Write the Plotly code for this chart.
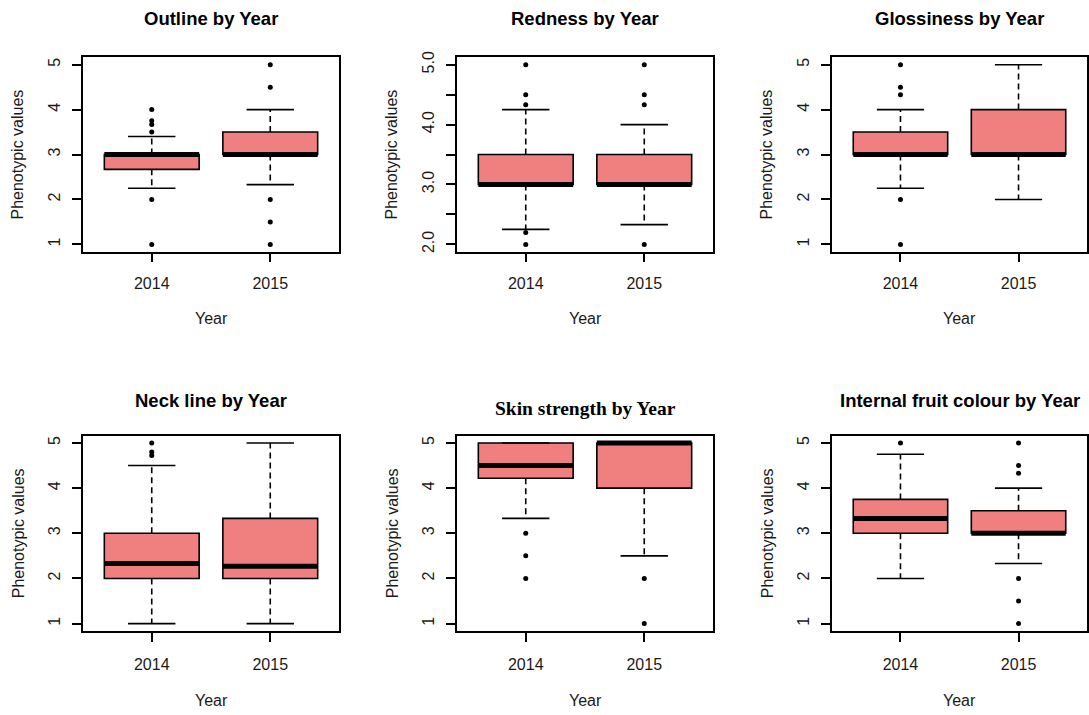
import plotly.graph_objects as go

# Phenotypic trait scores by harvest year (box statistics + outlying observations)
years = ["2014", "2015"]
positions = [1, 2]
traits = ["Outline", "Redness", "Glossiness", "Neck line", "Skin strength", "Internal fruit colour"]

q1 = [[2.67, 3.0], [3.0, 3.0], [3.0, 3.0], [2.0, 2.0], [4.22, 4.0], [3.0, 3.0]]
median = [[3.0, 3.0], [3.0, 3.0], [3.0, 3.0], [2.33, 2.27], [4.5, 5.0], [3.33, 3.0]]
q3 = [[3.0, 3.5], [3.5, 3.5], [3.5, 4.0], [3.0, 3.33], [5.0, 5.0], [3.75, 3.5]]
whisker_low = [[2.25, 2.33], [2.25, 2.33], [2.25, 2.0], [1.0, 1.0], [3.33, 2.5], [2.0, 2.33]]
whisker_high = [[3.4, 4.0], [4.25, 4.0], [4.0, 5.0], [4.5, 5.0], [5.0, 5.0], [4.75, 4.0]]
outliers_2014 = [[4.0, 3.75, 3.67, 3.5, 2.0, 1.0], [5.0, 4.5, 4.33, 2.2, 2.0],
                 [5.0, 4.5, 4.33, 2.0, 1.0], [5.0, 4.8, 4.72], [3.0, 2.5, 2.0], [5.0]]
outliers_2015 = [[5.0, 4.5, 2.0, 1.5, 1.0], [5.0, 4.5, 4.33, 2.0],
                 [], [], [2.0, 1.0], [5.0, 4.5, 4.33, 2.0, 1.5, 1.0]]

# y-axis ticks: Redness uses a half-step scale with every other label
ticks_1to5 = [1, 2, 3, 4, 5]
labels_1to5 = ["1", "2", "3", "4", "5"]
ticks_redness = [2.0, 2.5, 3.0, 3.5, 4.0, 4.5, 5.0]
labels_redness = ["2.0", "", "3.0", "", "4.0", "", "5.0"]

W, H = 1089, 715
FILL = "#F08080"
INK = "#1a1a1a"
SANS = "Liberation Sans, Arial, sans-serif"
SERIF = "Liberation Serif, Times New Roman, serif"
BOX_W = 0.8
CAP_W = 0.4

col_px = [(83, 339), (457, 713), (832, 1087)]
row_px = [(52, 248), (434, 631)]
title_px = [13, 398]
xlabel_gap = [68, 70]
xtick_standoff = [7, 9]

fig = go.Figure()
annotations = []

for i, trait in enumerate(traits):
    r, c = divmod(i, 3)
    n = i + 1
    xa = "x" if n == 1 else f"x{n}"
    ya = "y" if n == 1 else f"y{n}"

    fig.add_trace(go.Box(
        x=positions, q1=q1[i], median=median[i], q3=q3[i],
        lowerfence=q1[i], upperfence=q3[i], orientation="v",
        width=BOX_W, whiskerwidth=0, fillcolor=FILL, boxpoints=False,
        line=dict(color="black", width=1.6),
        xaxis=xa, yaxis=ya, showlegend=False, hoverinfo="skip"))

    # dashed whiskers from the box edges to the extremes, solid staples, heavy medians
    wx, wy, cx, cy, mx, my = [], [], [], [], [], []
    for j, p in enumerate(positions):
        wx += [p, p, None, p, p, None]
        wy += [q3[i][j], whisker_high[i][j], None, q1[i][j], whisker_low[i][j], None]
        cx += [p - CAP_W / 2, p + CAP_W / 2, None, p - CAP_W / 2, p + CAP_W / 2, None]
        cy += [whisker_high[i][j]] * 2 + [None] + [whisker_low[i][j]] * 2 + [None]
        mx += [p - BOX_W / 2, p + BOX_W / 2, None]
        my += [median[i][j]] * 2 + [None]

    fig.add_trace(go.Scatter(x=wx, y=wy, mode="lines", xaxis=xa, yaxis=ya,
                             line=dict(color="black", width=1.6, dash="6px,4px"),
                             showlegend=False, hoverinfo="skip"))
    fig.add_trace(go.Scatter(x=cx, y=cy, mode="lines", xaxis=xa, yaxis=ya,
                             line=dict(color="black", width=1.6),
                             showlegend=False, hoverinfo="skip"))
    fig.add_trace(go.Scatter(x=mx, y=my, mode="lines", xaxis=xa, yaxis=ya,
                             line=dict(color="black", width=5),
                             showlegend=False, hoverinfo="skip"))
    ox = [positions[0]] * len(outliers_2014[i]) + [positions[1]] * len(outliers_2015[i])
    oy = outliers_2014[i] + outliers_2015[i]
    fig.add_trace(go.Scatter(x=ox, y=oy, mode="markers", xaxis=xa, yaxis=ya,
                             marker=dict(color="black", size=5),
                             showlegend=False, hoverinfo="skip"))

    x0, x1 = col_px[c]
    y0, y1 = row_px[r]
    if trait == "Redness":
        yticks, ylabels, yrange = ticks_redness, labels_redness, [1.88, 5.12]
    else:
        yticks, ylabels, yrange = ticks_1to5, labels_1to5, [0.84, 5.16]

    axis_common = dict(showline=True, linecolor="black", linewidth=1.5, mirror=True,
                       showgrid=False, zeroline=False, ticks="outside", ticklen=9,
                       tickwidth=1.5, tickcolor="black",
                       tickfont=dict(family=SANS, size=16, color=INK))
    fig.update_layout(**{
        ("xaxis" if n == 1 else f"xaxis{n}"): dict(
            axis_common, domain=[x0 / W, x1 / W], anchor=ya, range=[0.42, 2.58],
            tickmode="array", tickvals=positions, ticktext=years,
            ticklabelstandoff=xtick_standoff[r]),
        ("yaxis" if n == 1 else f"yaxis{n}"): dict(
            axis_common, domain=[1 - y1 / H, 1 - y0 / H], anchor=xa, range=yrange,
            tickmode="array", tickvals=yticks, ticktext=ylabels, tickangle=-90,
            ticklabelstandoff=6),
    })

    title_y = title_px[r]
    title_font = dict(family=SANS, size=18.5, color="black", weight="bold")
    if trait == "Skin strength":
        title_y += 8
        title_font = dict(family=SERIF, size=19.5, color="black", weight="bold")
    xc = (x0 + x1) / 2
    annotations.append(dict(text=f"{trait} by Year", x=xc / W, y=1 - title_y / H,
                            xref="paper", yref="paper", showarrow=False,
                            xanchor="center", yanchor="middle", font=title_font))
    annotations.append(dict(text="Year", x=xc / W, y=1 - (y1 + xlabel_gap[r]) / H,
                            xref="paper", yref="paper", showarrow=False,
                            xanchor="center", yanchor="middle",
                            font=dict(family=SANS, size=16, color=INK)))
    annotations.append(dict(text="Phenotypic values", x=(x0 - 65) / W,
                            y=1 - (y0 + y1) / 2 / H, xref="paper", yref="paper",
                            showarrow=False, textangle=-90, xanchor="center",
                            yanchor="middle",
                            font=dict(family=SANS, size=16, color=INK)))

fig.update_layout(width=W, height=H, margin=dict(l=0, r=0, t=0, b=0),
                  paper_bgcolor="white", plot_bgcolor="white",
                  annotations=annotations, showlegend=False)

fig.write_html("out.html")
